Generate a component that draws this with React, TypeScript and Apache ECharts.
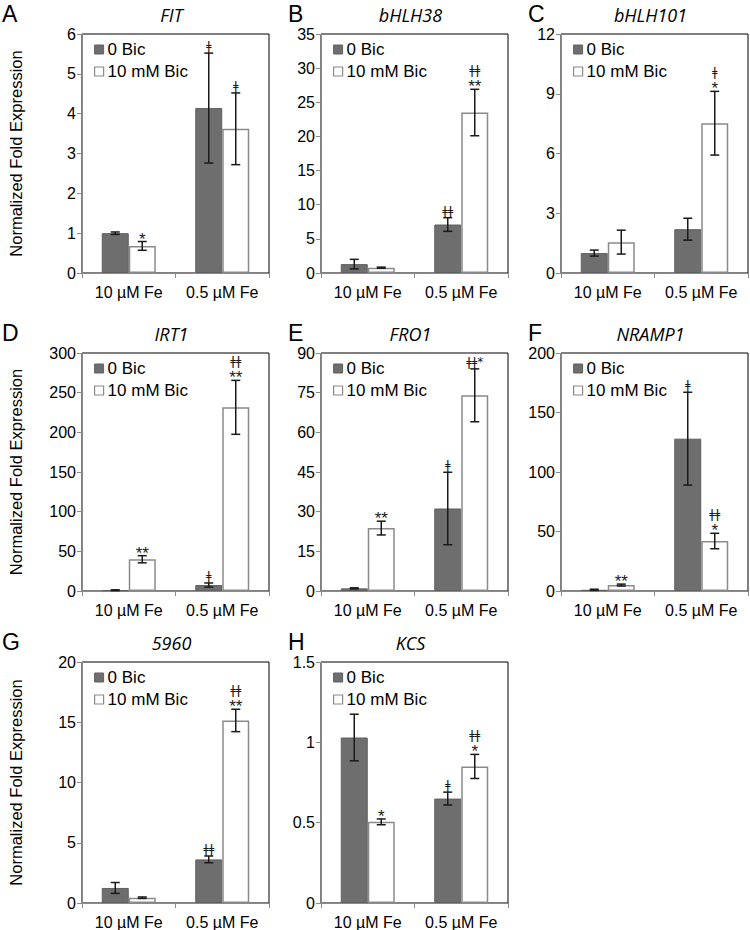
import React, { useEffect, useRef } from 'react';
import * as echarts from 'echarts';

const categories = ['10 µM Fe', '0.5 µM Fe'];
const seriesNames = ['0 Bic', '10 mM Bic'];
const panelLetters = ['A', 'B', 'C', 'D', 'E', 'F', 'G', 'H'];
const genes = ['FIT', 'bHLH38', 'bHLH101', 'IRT1', 'FRO1', 'NRAMP1', '5960', 'KCS'];
const yAxisTitle = 'Normalized Fold Expression';
const yMax = [6, 35, 12, 300, 90, 200, 20, 1.5];
const yStep = [1, 5, 3, 50, 15, 50, 5, 0.5];

// [10 µM Fe, 0.5 µM Fe]
const ctrlMean = [[1.0, 4.14], [1.3, 7.1], [1.0, 2.2], [1.0, 7.5], [1.0, 31.2], [1.0, 128], [1.25, 3.62], [1.03, 0.65]];
const ctrlErr = [[0.03, 1.38], [0.7, 1.0], [0.15, 0.55], [0.5, 2.6], [0.2, 13.7], [0.5, 39], [0.45, 0.28], [0.145, 0.04]];
const bicMean = [[0.68, 3.62], [0.78, 23.5], [1.55, 7.52], [40, 231.5], [23.8, 74], [5, 42], [0.44, 15.15], [0.505, 0.85]];
const bicErr = [[0.11, 0.9], [0.08, 3.4], [0.6, 1.6], [4.5, 34], [2.6, 10], [0.8, 6.5], [0.06, 0.93], [0.018, 0.075]];
const ctrlMarks = [['', 'ǂ'], ['', 'ǂǂ'], ['', ''], ['', 'ǂ'], ['', 'ǂ'], ['', 'ǂ'], ['', 'ǂǂ'], ['', 'ǂ']];
const bicMarks = [['*', 'ǂ'], ['', 'ǂǂ\n**'], ['', 'ǂ\n*'], ['**', 'ǂǂ\n**'], ['**', 'ǂǂ*'], ['**', 'ǂǂ\n*'], ['', 'ǂǂ\n**'], ['*', 'ǂǂ\n*']];

const FONT = "'Liberation Sans', Arial, sans-serif";
const COL_LEFT = [82, 321, 561];
const COL_W = 187;
const ROW_TOP = [34, 353, 662];
const ROW_H = [239, 238, 241];
const BAR_W = 27;
const DARK = '#6e6e6e';
const GRAY_LINE = '#8a8a8a';

function errRenderer(marks: string[][], panel: number, offset: number) {
  return (params: any, api: any) => {
    const cat = api.value(0);
    const mean = api.value(1);
    const err = api.value(2);
    const hi = api.coord([cat, mean + err]);
    const lo = api.coord([cat, Math.max(0, mean - err)]);
    const x = hi[0] + offset;
    const cap = 4.5;
    const lineStyle = { stroke: '#1a1a1a', lineWidth: 1.5 };
    const children: any[] = [
      { type: 'line', shape: { x1: x, y1: hi[1], x2: x, y2: lo[1] }, style: lineStyle },
      { type: 'line', shape: { x1: x - cap, y1: hi[1], x2: x + cap, y2: hi[1] }, style: lineStyle },
      { type: 'line', shape: { x1: x - cap, y1: lo[1], x2: x + cap, y2: lo[1] }, style: lineStyle },
    ];
    const mark = marks[panel][params.dataIndex];
    if (mark) {
      const lines = mark.split('\n').reverse();
      let y = hi[1] - 1;
      lines.forEach((ln) => {
        const isStar = ln.indexOf('*') >= 0 && ln.indexOf('ǂ') < 0;
        if (isStar) {
          children.push({
            type: 'text',
            style: { text: ln, x, y: y - 10, align: 'center', verticalAlign: 'top', font: `17px ${FONT}`, fill: '#1a1a1a' },
          });
          y -= 12;
        } else {
          children.push({
            type: 'text',
            style: { text: ln, x, y: y, align: 'center', verticalAlign: 'bottom', font: `12px 'DejaVu Sans', sans-serif`, fill: '#1a1a1a' },
          });
          y -= 12;
        }
      });
    }
    return { type: 'group', children };
  };
}

export default function App() {
  const ref = useRef<HTMLDivElement>(null);
  useEffect(() => {
    document.body.style.margin = '0';
    const chart = echarts.init(ref.current!, null, { renderer: 'svg' });
    const grid: any[] = [];
    const xAxis: any[] = [];
    const yAxis: any[] = [];
    const series: any[] = [];
    const legend: any[] = [];
    const graphic: any[] = [];
    genes.forEach((gene, i) => {
      const col = i % 3;
      const row = Math.floor(i / 3);
      const left = COL_LEFT[col];
      const top = ROW_TOP[row];
      grid.push({ left, top, width: COL_W, height: ROW_H[row], show: true, borderColor: '#000', borderWidth: 1, backgroundColor: 'transparent' });
      xAxis.push({
        type: 'category', gridIndex: i, data: categories,
        axisLine: { lineStyle: { color: GRAY_LINE, width: 1 } },
        axisTick: { show: true, length: 5, lineStyle: { color: GRAY_LINE } },
        axisLabel: { interval: 0, hideOverlap: false, fontSize: 16, color: '#000', fontFamily: FONT, margin: 11 },
      });
      yAxis.push({
        type: 'value', gridIndex: i, min: 0, max: yMax[i], interval: yStep[i],
        axisLine: { show: true, lineStyle: { color: GRAY_LINE, width: 1 } },
        axisTick: { show: true, length: 5, lineStyle: { color: GRAY_LINE } },
        axisLabel: { fontSize: 16, color: '#000', fontFamily: FONT, margin: 6 },
        splitLine: { show: false },
      });
      series.push({
        type: 'bar', name: seriesNames[0], xAxisIndex: i, yAxisIndex: i, data: ctrlMean[i],
        barWidth: BAR_W, barGap: '0%', itemStyle: { color: DARK, borderColor: '#606060', borderWidth: 1 },
      });
      series.push({
        type: 'bar', name: seriesNames[1], xAxisIndex: i, yAxisIndex: i, data: bicMean[i],
        barWidth: BAR_W, barGap: '0%', itemStyle: { color: '#ffffff', borderColor: GRAY_LINE, borderWidth: 1.5 },
      });
      series.push({
        type: 'custom', name: 'err0', xAxisIndex: i, yAxisIndex: i, z: 5,
        data: categories.map((c, j) => [j, ctrlMean[i][j], ctrlErr[i][j]]),
        renderItem: errRenderer(ctrlMarks, i, -BAR_W / 2), encode: { x: 0, y: 1 },
      });
      series.push({
        type: 'custom', name: 'err1', xAxisIndex: i, yAxisIndex: i, z: 5,
        data: categories.map((c, j) => [j, bicMean[i][j], bicErr[i][j]]),
        renderItem: errRenderer(bicMarks, i, BAR_W / 2), encode: { x: 0, y: 1 },
      });
      legend.push({
        data: [
          { name: seriesNames[0], itemStyle: { color: DARK, borderColor: '#606060', borderWidth: 1 } },
          { name: seriesNames[1], itemStyle: { color: '#fff', borderColor: GRAY_LINE, borderWidth: 1.2 } },
        ],
        orient: 'vertical', left: left + 12, top: top + 7, padding: 0,
        itemWidth: 9, itemHeight: 9, itemGap: 5, icon: 'rect', selectedMode: false,
        textStyle: { fontSize: 17, color: '#000', fontFamily: FONT, padding: [0, 0, 0, -1] },
      });
      graphic.push({
        type: 'text', left: col === 0 ? 2 : left - 33, top: top - 32,
        style: { text: panelLetters[i], font: `23px ${FONT}`, fill: '#000' },
      });
      graphic.push({
        type: 'text', x: left + COL_W / 2 - 4, y: top - 19,
        style: { text: gene, font: `italic 18px 'Open Sans', sans-serif`, fill: '#000', align: 'center', verticalAlign: 'middle' },
      });
      if (col === 0) {
        graphic.push({
          type: 'text', x: 16, y: top + ROW_H[row] / 2, rotation: Math.PI / 2,
          style: { text: yAxisTitle, font: `16.5px ${FONT}`, fill: '#000', align: 'center', verticalAlign: 'middle' },
        });
      }
    });
    chart.setOption({ animation: false, backgroundColor: '#fff', grid, xAxis, yAxis, series, legend, graphic });
    return () => chart.dispose();
  }, []);
  return <div ref={ref} style={{ width: 750, height: 930 }} />;
}
